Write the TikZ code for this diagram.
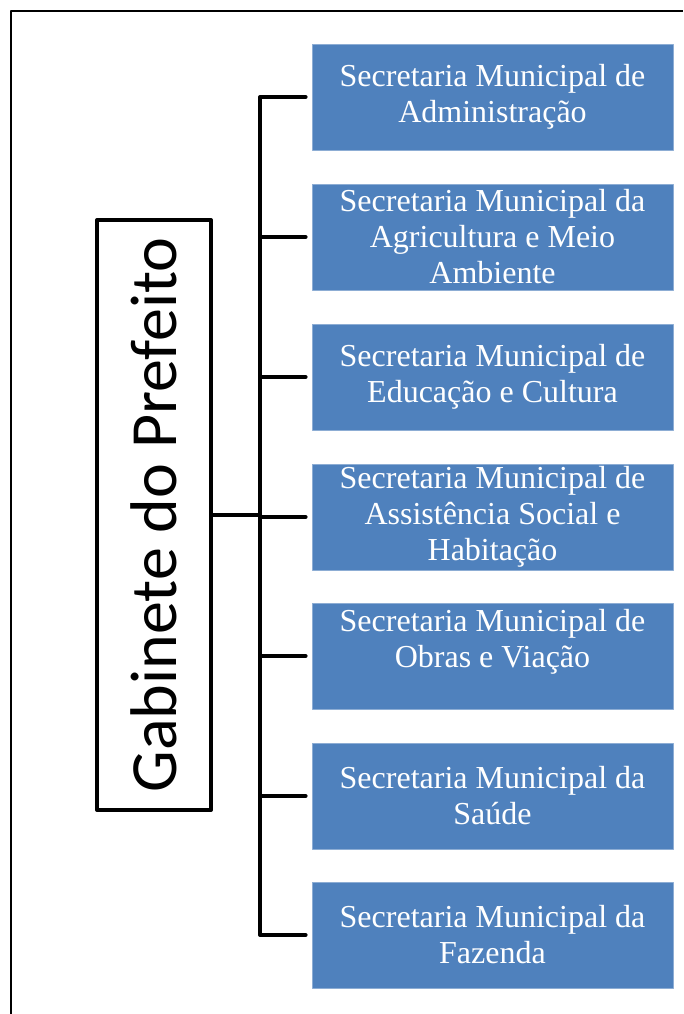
\documentclass[tikz,border=0pt]{standalone}
\usepackage{fontspec}
\setmainfont{Liberation Serif}
\newfontfamily\gabfont{Carlito}

\begin{document}
\begin{tikzpicture}[x=1pt,y=-1pt,line cap=round,line join=round,
    secbox/.style={fill=officeblue,draw=officeblue!65!white,line width=0.8pt,
      minimum width=361pt,minimum height=106pt,inner sep=0pt,
      text=white,align=center,font=\fontsize{32}{36}\selectfont},
    link/.style={line width=4pt}]
\definecolor{officeblue}{RGB}{79,129,189}
  \useasboundingbox (0,0) rectangle (683,1014);
  \draw[line width=1.8pt,line cap=butt] (11,1014) -- (11,11) -- (683,11); % page frame

  \node[draw,line width=4pt,rotate=90,minimum width=590pt,minimum height=114pt,
    inner sep=0pt,font=\gabfont\fontsize{66}{70}\selectfont] (gab) at (154,515)
    {Gabinete do Prefeito};

  \node[secbox] (s1) at (492.5,97)  {Secretaria Municipal de\\Administração};
  \node[secbox] (s2) at (492.5,237) {Secretaria Municipal da\\Agricultura e Meio\\Ambiente};
  \node[secbox] (s3) at (492.5,377) {Secretaria Municipal de\\Educação e Cultura};
  \node[secbox] (s4) at (492.5,517) {Secretaria Municipal de\\Assistência Social e\\Habitação};
  \node[secbox] (s5) at (492.5,656) {Secretaria Municipal de\\Obras e Viação\\\mbox{}};
  \node[secbox] (s6) at (492.5,796) {Secretaria Municipal da\\Saúde};
  \node[secbox] (s7) at (492.5,935) {Secretaria Municipal da\\Fazenda};

  \coordinate (hub) at (260,515);
  \draw[link] (gab.south) -- (hub);
  \draw[link] ([xshift=-6pt]s1.west) -| (hub) |- ([xshift=-6pt]s7.west);
  \foreach \i in {2,...,6}
    \draw[link] ([xshift=-6pt]s\i.west) -- (s\i.west -| hub);
\end{tikzpicture}
\end{document}
